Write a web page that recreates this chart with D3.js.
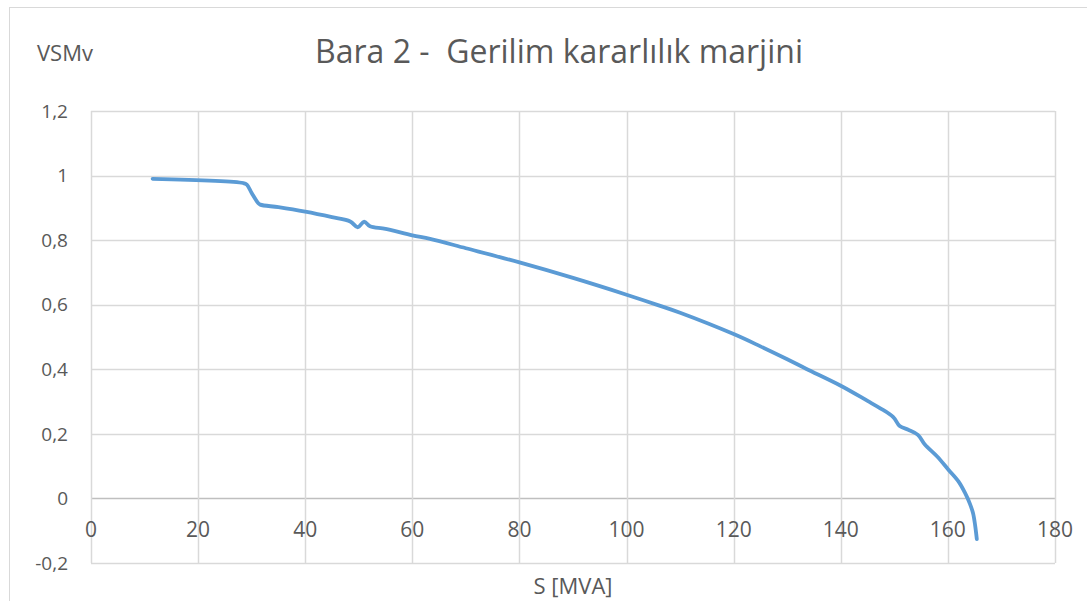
<!DOCTYPE html>
<html>
<head>
<meta charset="utf-8">
<script src="https://cdn.jsdelivr.net/npm/d3@7"></script>
<style>
  body { margin: 0; background: #fff; }
  text { font-family: "Open Sans", sans-serif; fill: #595959; }
</style>
</head>
<body>
<div id="chart"></div>
<script>
// S [MVA] values
var sValues = [11.5, 28.4, 29.1, 30.0, 31.2, 31.6, 35, 40, 45, 48.4, 49.8, 51.0, 52.1,
  55, 60, 63.3, 70, 80, 90, 100, 106, 110, 120, 125, 130, 133.6, 140, 145, 147.3,
  149.8, 151, 152.6, 154.4, 155.7, 158, 160.1, 162, 163.2, 164.1, 164.7, 165.1, 165.4];
// VSMv values for each S
var vsmValues = [0.99, 0.977, 0.972, 0.946, 0.915, 0.910, 0.902, 0.888, 0.871, 0.858, 0.840, 0.857, 0.843,
  0.835, 0.815, 0.804, 0.775, 0.731, 0.683, 0.631, 0.598, 0.575, 0.509, 0.471, 0.431, 0.401, 0.349, 0.302, 0.280,
  0.252, 0.224, 0.213, 0.197, 0.167, 0.130, 0.089, 0.052, 0.017, -0.016, -0.046, -0.085, -0.126];

var xTicks = [0, 20, 40, 60, 80, 100, 120, 140, 160, 180];
var yTicks = [-0.2, 0, 0.2, 0.4, 0.6, 0.8, 1, 1.2];

var title = "Bara 2 -  Gerilim kararlılık marjini";
var yTitle = "VSMv";
var xTitle = "S [MVA]";

var W = 1087, H = 601;
var margin = {top: 111, right: 32, bottom: 38, left: 91},
    width = W - margin.left - margin.right,
    height = H - margin.top - margin.bottom;

var svg = d3.select("#chart").append("svg")
    .attr("width", W)
    .attr("height", H);

// chart frame
svg.append("rect")
    .attr("x", 9.5).attr("y", 7.5)
    .attr("width", W + 20).attr("height", H + 20)
    .attr("fill", "none")
    .attr("stroke", "#d9d9d9");

var g = svg.append("g")
    .attr("transform", "translate(" + margin.left + "," + margin.top + ")");

var x = d3.scaleLinear().domain([0, 180]).range([0, width]);
var y = d3.scaleLinear().domain([-0.2, 1.2]).range([height, 0]);

// comma decimal, plain hyphen for negatives
var fmt = function (d) {
  return d3.format(".1~f")(d).replace(".", ",").replace("\u2212", "-");
};

// grid lines
g.append("g").selectAll("line.h")
    .data(yTicks)
    .enter().append("line")
      .attr("x1", 0).attr("x2", width)
      .attr("y1", function (d) { return Math.round(y(d)) + 0.5; })
      .attr("y2", function (d) { return Math.round(y(d)) + 0.5; })
      .attr("stroke", function (d) { return d === 0 ? "#bfbfbf" : "#d9d9d9"; })
      .attr("stroke-width", 1.5);

g.append("g").selectAll("line.v")
    .data(xTicks)
    .enter().append("line")
      .attr("y1", 0).attr("y2", height)
      .attr("x1", function (d) { return Math.round(x(d)) + 0.5; })
      .attr("x2", function (d) { return Math.round(x(d)) + 0.5; })
      .attr("stroke", "#d9d9d9")
      .attr("stroke-width", 1.5);

// y tick labels
g.append("g").selectAll("text")
    .data(yTicks)
    .enter().append("text")
      .attr("x", -23)
      .attr("y", function (d) { return y(d); })
      .attr("dy", "0.35em")
      .attr("text-anchor", "end")
      .style("font-size", "19px")
      .text(fmt);

// x tick labels, under the zero line
g.append("g").selectAll("text")
    .data(xTicks)
    .enter().append("text")
      .attr("x", function (d) { return x(d); })
      .attr("y", y(0) + 31)
      .attr("dy", "0.36em")
      .attr("text-anchor", "middle")
      .style("font-size", "21px")
      .text(fmt);

// the series
var data = sValues.map(function (s, i) { return {s: s, v: vsmValues[i]}; });
var line = d3.line()
    .x(function (d) { return x(d.s); })
    .y(function (d) { return y(d.v); })
    .curve(d3.curveCatmullRom.alpha(0.5));

g.append("path")
    .datum(data)
    .attr("d", line)
    .attr("fill", "none")
    .attr("stroke", "#5b9bd5")
    .attr("stroke-width", 3.8)
    .attr("stroke-linecap", "round")
    .attr("stroke-linejoin", "round");

// titles
svg.append("text")
    .attr("x", 559).attr("y", 63)
    .attr("text-anchor", "middle")
    .style("font-size", "32px")
    .style("white-space", "pre")
    .attr("xml:space", "preserve")
    .text(title);

svg.append("text")
    .attr("x", 37).attr("y", 61)
    .style("font-size", "22px")
    .text(yTitle);

svg.append("text")
    .attr("x", margin.left + width / 2).attr("y", 594)
    .attr("text-anchor", "middle")
    .style("font-size", "22px")
    .text(xTitle);
</script>
</body>
</html>
